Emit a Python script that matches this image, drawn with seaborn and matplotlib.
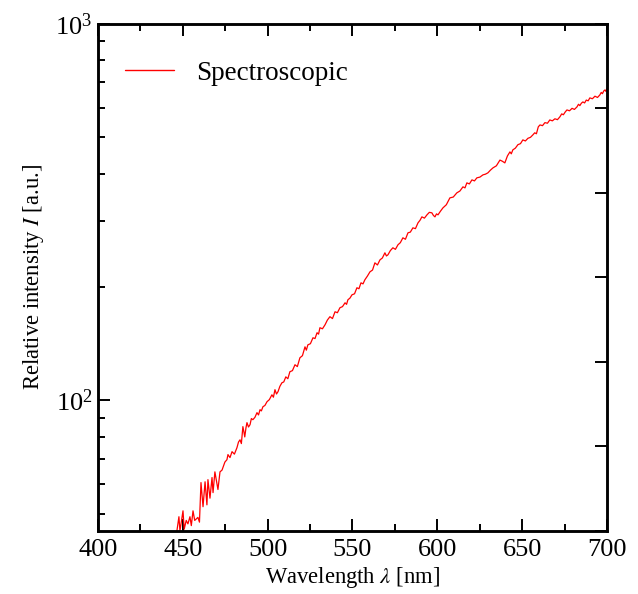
import numpy as np
import pandas as pd
import matplotlib
matplotlib.use("Agg")
import matplotlib.pyplot as plt
from matplotlib.ticker import LogLocator, MultipleLocator, NullFormatter
import seaborn as sns

# === values (wavelength in nm, intensity in a.u.) ===
wavelength = [446.5, 447.7, 448.3, 450.1, 450.8, 452.0, 453.0, 454.2, 455.0, 456.0,
              457.0, 458.9, 459.8, 460.7, 461.9, 463.1, 464.2, 464.8, 466.0, 467.2,
              467.8, 468.9, 470.7, 471.9, 473.1, 474.8, 476.0, 476.6, 477.8, 479.0,
              480.4, 481.9, 482.8, 483.7, 484.5, 485.4, 486.0, 486.5, 487.2, 487.8,
              488.7, 489.6, 490.4, 491.3, 492.5, 493.7, 494.6, 495.5, 496.3, 497.2,
              498.4, 499.6, 501.0, 502.5, 503.4, 504.3, 505.2, 506.1, 507.2, 508.4,
              509.5, 510.7, 511.9, 513.1, 514.6, 516.1, 517.5, 519.0, 520.5, 522.0,
              522.8, 523.7, 525.2, 526.7, 527.9, 529.1, 530.0, 530.8, 532.3, 533.8,
              535.2, 536.7, 538.2, 539.7, 541.1, 542.6, 544.1, 545.6, 546.5, 547.3,
              548.5, 549.7, 551.2, 552.6, 553.8, 555.0, 556.2, 557.3, 558.8, 560.3,
              561.8, 563.2, 564.7, 566.2, 567.6, 569.1, 570.0, 570.9, 572.3, 573.8,
              575.3, 576.8, 578.2, 579.7, 581.2, 582.7, 584.1, 585.6, 587.1, 588.6,
              589.8, 590.9, 592.4, 593.9, 595.3, 596.8, 597.7, 598.6, 599.5, 600.4,
              601.8, 603.3, 605.3, 607.4, 609.4, 611.5, 613.3, 615.1, 616.3, 617.4,
              618.9, 620.4, 621.9, 623.3, 625.1, 626.9, 628.3, 629.8, 631.3, 632.8,
              634.8, 636.9, 638.3, 639.8, 641.3, 642.8, 643.6, 644.5, 646.0, 647.5,
              649.0, 650.4, 651.9, 653.4, 654.9, 656.3, 657.4, 658.4, 659.5, 660.5,
              662.0, 663.4, 664.9, 666.3, 667.8, 669.3, 670.8, 672.2, 673.3, 674.3,
              675.4, 676.4, 677.9, 679.4, 680.8, 682.3, 683.2, 684.0, 684.9, 685.8,
              686.8, 687.8, 688.9, 689.9, 691.4, 692.9, 694.4, 695.8, 696.6, 697.3,
              698.1, 698.8, 699.4, 700.0]
intensity = [45.0, 49.1, 45.0, 50.9, 45.5, 48.0, 47.0, 49.1, 46.5, 50.9,
             48.0, 48.9, 47.5, 60.5, 52.2, 60.8, 52.8, 61.6, 55.0, 62.4,
             56.9, 64.6, 58.0, 64.6, 65.3, 68.6, 69.6, 71.8, 70.5, 73.1,
             72.0, 74.9, 77.5, 78.6, 76.8, 85.2, 82.5, 80.0, 84.5, 87.3,
             85.0, 86.2, 89.5, 88.9, 90.2, 92.8, 91.5, 94.5, 93.8, 96.2,
             97.0, 99.2, 100.5, 103.5, 102.0, 106.8, 104.0, 105.5, 109.0, 111.4,
             112.0, 115.5, 114.2, 119.2, 120.0, 124.4, 123.0, 129.8, 131.5, 138.8,
             136.0, 140.5, 141.5, 146.7, 146.0, 151.3, 150.0, 156.0, 155.0, 158.8,
             163.5, 166.9, 165.0, 172.0, 171.0, 176.3, 177.5, 181.7, 180.0, 185.1,
             187.0, 190.8, 192.0, 199.2, 198.0, 205.3, 204.0, 209.2, 214.0, 219.6,
             222.0, 232.0, 229.0, 236.3, 239.0, 246.7, 242.0, 243.7, 250.0, 254.4,
             252.0, 259.1, 262.5, 270.4, 268.0, 278.8, 280.0, 287.4, 286.0, 296.3,
             301.0, 307.4, 305.0, 311.2, 316.0, 315.0, 310.0, 307.4, 313.0, 311.2,
             318.0, 324.7, 331.0, 345.2, 347.0, 356.0, 360.0, 369.3, 367.0, 378.4,
             376.0, 385.4, 383.0, 390.2, 392.0, 397.4, 399.0, 402.3, 409.0, 414.8,
             420.0, 435.0, 432.0, 427.6, 446.0, 457.4, 452.0, 463.0, 468.0, 478.0,
             481.0, 492.2, 489.0, 497.0, 500.0, 507.4, 514.0, 511.0, 533.0, 539.4,
             537.0, 547.0, 545.0, 556.1, 553.0, 560.0, 557.0, 566.4, 577.0, 574.0,
             584.0, 591.2, 588.0, 597.0, 593.0, 602.2, 612.0, 607.0, 616.0, 620.9,
             617.0, 628.0, 625.0, 636.4, 633.0, 643.0, 638.0, 648.0, 658.0, 653.0,
             664.0, 668.1, 662.0, 676.0]
series_name = "Spectroscopic"
xticks = [400, 450, 500, 550, 600, 650, 700]

df = pd.DataFrame({"Wavelength": wavelength, "Intensity": intensity})
df["Series"] = series_name

sns.set_style("ticks")
plt.rcParams["font.family"] = ["Liberation Serif", "DejaVu Serif"]
plt.rcParams["mathtext.fontset"] = "stix"
plt.rcParams["text.color"] = "black"
plt.rcParams["axes.labelcolor"] = "black"
plt.rcParams["xtick.color"] = "black"
plt.rcParams["ytick.color"] = "black"
plt.rcParams["axes.edgecolor"] = "black"

fig = plt.figure(figsize=(6.38, 5.94), dpi=100)
ax = fig.add_axes([0.1536, 0.1061, 0.7978, 0.8535])

sns.lineplot(data=df, x="Wavelength", y="Intensity", hue="Series",
             palette=["#ff0000"], linewidth=0.9, ax=ax, sort=False)

ax.set_yscale("log")
ax.set_xlim(400, 700)
ax.set_ylim(45, 1000)
ax.set_xticks(xticks)
ax.xaxis.set_minor_locator(MultipleLocator(25))
ax.yaxis.set_major_locator(LogLocator(base=10))
ax.yaxis.set_minor_locator(LogLocator(base=10, subs=np.arange(2, 10)))
ax.yaxis.set_minor_formatter(NullFormatter())

ax.tick_params(axis="x", which="both", direction="in", top=True, bottom=True,
               labelsize=19, pad=6)
ax.tick_params(axis="y", which="both", direction="in", left=True, right=False,
               labelsize=19, pad=4)
ax.tick_params(which="major", length=8.5, width=1.4)
ax.tick_params(which="minor", length=5, width=1.4)

for s in ax.spines.values():
    s.set_linewidth(1.8)

ax.set_xlabel("Wavelength $\\lambda$ [nm]", fontsize=16.3, labelpad=3)
ax.set_ylabel("Relative intensity $I$ [a.u.]", fontsize=16.3, labelpad=7)

# right axis only carries evenly spaced unlabeled ticks
ax2 = ax.twinx()
ax2.set_ylim(0, 6)
ax2.set_yticks(range(7))
ax2.tick_params(axis="y", direction="in", length=8.5, width=1.4, labelright=False)
for s in ax2.spines.values():
    s.set_linewidth(1.8)

leg = ax.legend(loc="upper left", bbox_to_anchor=(0.026, 0.954), frameon=False,
                fontsize=19.5, handlelength=1.8, handletextpad=0.85, borderpad=0)
leg.get_lines()[0].set_linewidth(1.0)

fig.savefig("out.png", dpi=100)
